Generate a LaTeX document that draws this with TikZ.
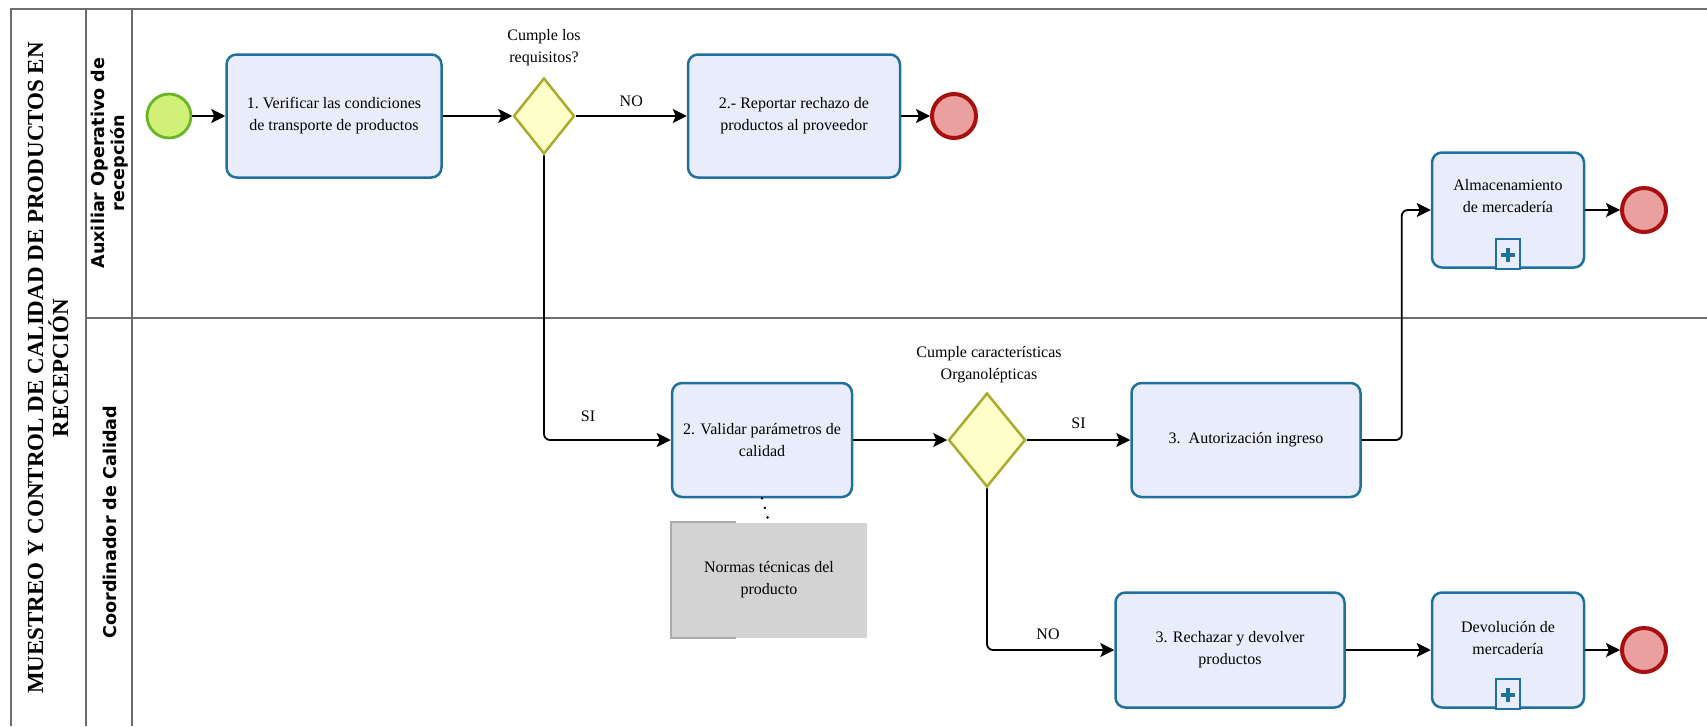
\documentclass[tikz,border=0pt]{standalone}
\usepackage{fontspec}
\setmainfont{Liberation Serif}
\newfontfamily\lanefont{DejaVu Sans}
\usetikzlibrary{shapes.geometric,arrows.meta}
\definecolor{taskfill}{RGB}{233,237,251}
\definecolor{taskdraw}{RGB}{32,112,158}
\definecolor{gwfill}{RGB}{254,254,200}
\definecolor{gwdraw}{RGB}{170,170,45}
\definecolor{stfill}{RGB}{208,240,120}
\definecolor{stdraw}{RGB}{105,180,40}
\definecolor{endfill}{RGB}{235,160,160}
\definecolor{enddraw}{RGB}{170,15,15}
\definecolor{datafill}{RGB}{211,211,211}
\definecolor{databrk}{RGB}{170,170,170}
\definecolor{poolline}{RGB}{110,110,110}
\begin{document}
\begin{tikzpicture}[x=1pt,y=-1pt,
  pool/.style={draw=poolline,line width=2pt},
  task/.style={rectangle,rounded corners=10pt,draw=taskdraw,fill=taskfill,line width=2.5pt,align=center,font=\fontsize{16}{22}\selectfont,inner sep=4pt},
  gateway/.style={diamond,draw=gwdraw,fill=gwfill,line width=2.5pt,inner sep=0pt},
  startev/.style={circle,draw=stdraw,fill=stfill,line width=2.8pt,minimum size=44pt,inner sep=0pt},
  endev/.style={circle,draw=enddraw,fill=endfill,line width=4pt,minimum size=44pt,inner sep=0pt},
  datastore/.style={rectangle,fill=datafill,align=center,font=\fontsize{16}{22}\selectfont},
  lbl/.style={align=center,font=\fontsize{16}{22}\selectfont,inner sep=0pt},
  flow/.style={-{Stealth[length=14pt,width=14pt,inset=3pt]},line width=1.8pt,rounded corners=6pt},
  assoc/.style={line width=2.8pt,dash pattern=on 0pt off 10pt,line cap=round},
  marker/.style={draw=taskdraw,line width=2pt,fill=taskfill},
  plus/.style={draw=taskdraw,line width=4.5pt},
  bracket/.style={draw=databrk,line width=2pt}
]
\useasboundingbox (0,0) rectangle (1707,726);
% pool and lanes
\draw[pool] (11,726) -- (11,9) -- (1707,9);
\draw[pool] (86,9) -- (86,726);
\draw[pool] (132,9) -- (132,726);
\draw[pool] (86,318) -- (1707,318);
\node[rotate=90,align=center,font=\bfseries\fontsize{23}{25}\selectfont] (title) at (48,368) {MUESTREO Y CONTROL DE CALIDAD DE PRODUCTOS EN\\RECEPCIÓN};
\node[rotate=90,align=center,font=\lanefont\bfseries\fontsize{17.6}{20}\selectfont] (lane1) at (110,163) {Auxiliar Operativo de\\recepción};
\node[rotate=90,align=center,font=\lanefont\bfseries\fontsize{17.6}{20}\selectfont] (lane2) at (110,522) {Coordinador de Calidad};
% nodes
\node[startev] (start) at (169,116) {};
\node[task,minimum width=215pt,minimum height=123pt] (t1) at (334,116) {1.\ Verificar las condiciones\\de transporte de productos};
\node[gateway,minimum width=61pt,minimum height=76pt] (d1) at (544,116) {};
\node[lbl] (l1) at (544,48) {Cumple los\\requisitos?};
\node[task,minimum width=212pt,minimum height=123pt] (t2) at (794,116) {2.- Reportar rechazo de\\productos al proveedor};
\node[endev] (e1) at (954,116) {};
\node[task,minimum width=180pt,minimum height=114pt] (t3) at (762,440) {2. Validar parámetros de\\calidad};
\node[datastore,minimum width=195pt,minimum height=115pt] (data) at (769,580) {Normas técnicas del\\producto};
\draw[bracket] ([xshift=65pt]data.north west) -- (data.north west) -- (data.south west) -- ([xshift=65pt]data.south west);
\node[gateway,minimum width=77pt,minimum height=94pt] (d2) at (987,440) {};
\node[lbl] (l2) at (989,365) {Cumple características\\Organolépticas};
\node[task,minimum width=229pt,minimum height=114pt] (t4) at (1246,440) {3.\ \ Autorización ingreso};
\node[task,minimum width=152pt,minimum height=115pt] (t5) at (1508,210) {};
\node[lbl] (t5text) at ([yshift=14pt]t5.center) {Almacenamiento\\de mercadería};
\node[endev] (e2) at (1644,210) {};
\node[task,minimum width=229pt,minimum height=115pt] (t6) at (1230,650) {3. Rechazar y devolver\\productos};
\node[task,minimum width=152pt,minimum height=115pt] (t7) at (1508,650) {};
\node[lbl] (t7text) at ([yshift=12pt]t7.center) {Devolución de\\mercadería};
\node[endev] (e3) at (1644,650) {};
% subprocess markers
\foreach \n in {t5,t7}{
  \draw[marker] ([xshift=-12pt]\n.south) rectangle ([xshift=12pt,yshift=30pt]\n.south);
  \draw[plus] ([xshift=-7pt,yshift=14pt]\n.south) -- ([xshift=7pt,yshift=14pt]\n.south);
  \draw[plus] ([yshift=7pt]\n.south) -- ([yshift=21pt]\n.south);
}
% flows
\draw[flow] (start) -- (t1);
\draw[flow] (t1) -- (d1);
\draw[flow] (d1) -- node[lbl,above=8pt] (no1) {NO} (t2);
\draw[flow] (t2) -- (e1);
\draw[flow] (d1.south) |- (t3.west);
\node[lbl] (si1) at (588,416) {SI};
\draw[flow] (t3) -- (d2);
\draw[flow] (d2) -- node[lbl,above=10pt] (si2) {SI} (t4);
\draw[flow] (t4.east) -- ([xshift=40pt]t4.east) |- (t5.west);
\draw[flow] (t5) -- (e2);
\draw[flow] (d2.south) |- (t6.west);
\node[lbl] (no2) at (1048,634) {NO};
\draw[flow] (t6) -- (t7);
\draw[flow] (t7) -- (e3);
\draw[assoc] (t3.south) -- (data.north);
\end{tikzpicture}
\end{document}
